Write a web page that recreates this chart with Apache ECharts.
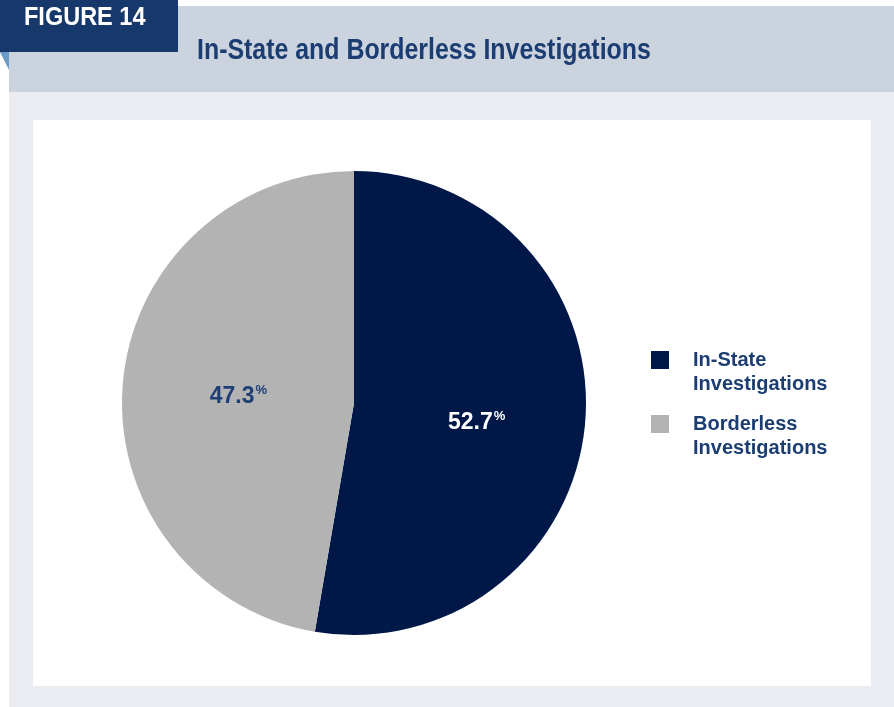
<!DOCTYPE html>
<html>
<head>
<meta charset="utf-8">
<style>
  html, body { margin: 0; padding: 0; background: #ffffff; }
  #chart { width: 894px; height: 707px; }
</style>
<script src="https://cdn.jsdelivr.net/npm/echarts@6/dist/echarts.min.js"></script>
</head>
<body>
<div id="chart"></div>
<script>
// Share of investigations by type (percent)
const categories = ['In-State Investigations', 'Borderless Investigations'];
const legendLabels = ['In-State\nInvestigations', 'Borderless\nInvestigations'];
const shares = [52.7, 47.3];
const sliceColors = ['#001848', '#b3b3b3'];
const labelColors = ['#ffffff', '#1d3f75'];

const FONT = '"Liberation Sans", Arial, sans-serif';
const NAVY_TEXT = '#1b3d71';

// small nudges for the in-slice value labels
const labelNudge = [[4, 10], [3, 4]];

const chart = echarts.init(document.getElementById('chart'), null, { renderer: 'canvas' });

const pieData = categories.map((name, i) => ({
  name: name,
  value: shares[i],
  itemStyle: { color: sliceColors[i] },
  label: {
    rich: {
      num: { color: labelColors[i] },
      pct: { color: labelColors[i] }
    }
  }
}));

chart.setOption({
  animation: false,
  graphic: [
    { type: 'rect', silent: true, z: -10, shape: { x: 9, y: 6, width: 885, height: 86 }, style: { fill: '#cbd3de' } },
    { type: 'rect', silent: true, z: -10, shape: { x: 9, y: 92, width: 885, height: 615 }, style: { fill: '#ebecf1' } },
    { type: 'rect', silent: true, z: -9, shape: { x: 33, y: 120, width: 838, height: 566 }, style: { fill: '#ffffff' } },
    { type: 'rect', silent: true, z: -8, shape: { x: 0, y: 0, width: 178, height: 52 }, style: { fill: '#16386a' } },
    { type: 'polygon', silent: true, z: -8, shape: { points: [[0, 52], [9, 52], [9, 70]] }, style: { fill: '#6b9bc8' } },
    {
      type: 'text', silent: true, z: 5, x: 24, y: 6, scaleX: 0.94,
      style: { text: 'FIGURE 14', fill: '#ffffff', font: 'bold 25px ' + FONT }
    },
    {
      type: 'text', silent: true, z: 5, x: 197, y: 36, scaleX: 0.83,
      style: { text: 'In-State and Borderless Investigations', fill: NAVY_TEXT, font: 'bold 30px ' + FONT }
    }
  ],
  legend: {
    orient: 'vertical',
    left: 651,
    top: 324,
    padding: 0,
    icon: 'rect',
    itemWidth: 18,
    itemHeight: 18,
    itemGap: -8,
    data: categories,
    // leading blank line keeps the marker level with the first text line
    formatter: name => '\n' + legendLabels[categories.indexOf(name)],
    selectedMode: false,
    itemStyle: { borderWidth: 0 },
    textStyle: {
      color: NAVY_TEXT,
      fontFamily: FONT,
      fontWeight: 'bold',
      fontSize: 20,
      lineHeight: 24,
      padding: [0, 0, 0, 19]
    }
  },
  series: [{
    type: 'pie',
    center: [354, 403],
    radius: 232,
    startAngle: 90,
    clockwise: true,
    silent: true,
    data: pieData,
    labelLine: { show: false },
    label: {
      show: true,
      position: 'inside',
      formatter: p => '{num|' + p.value.toFixed(1) + '}{pct|%}',
      rich: {
        num: { fontFamily: FONT, fontWeight: 'bold', fontSize: 23, lineHeight: 26 },
        pct: { fontFamily: FONT, fontWeight: 'bold', fontSize: 13, lineHeight: 16, verticalAlign: 'top', padding: [0, 0, 0, 1] }
      }
    },
    labelLayout: p => ({ dx: labelNudge[p.dataIndex][0], dy: labelNudge[p.dataIndex][1] })
  }]
});
</script>
</body>
</html>
